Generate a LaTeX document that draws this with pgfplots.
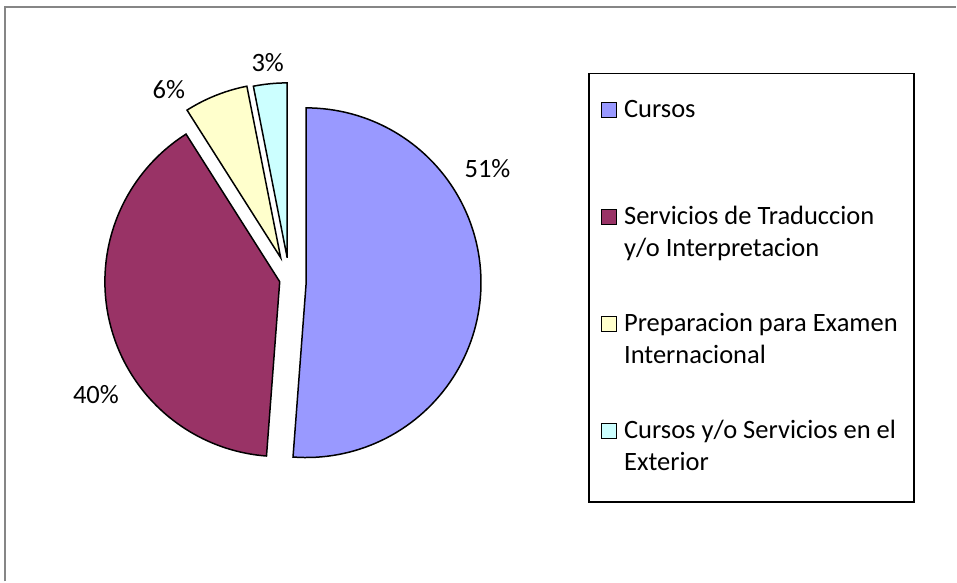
\documentclass[border=0pt]{standalone}
\usepackage{pgfplots}
\pgfplotsset{compat=1.18}
\usepackage{fontspec}
\setmainfont{Carlito}
\definecolor{cCursos}{RGB}{153,153,255}
\definecolor{cServ}{RGB}{153,51,102}
\definecolor{cPrep}{RGB}{255,255,204}
\definecolor{cExt}{RGB}{204,255,255}
\definecolor{frameg}{RGB}{134,134,134}
% shares in percent (labels: 51%, 40%, 6%, 3%)
\def\sCursos{51.2}
\def\sServ{39.8}
\def\sPrep{5.9}
\def\sExt{3.1}
\pgfmathsetmacro\aA{90}
\pgfmathsetmacro\aB{\aA-3.6*\sCursos}
\pgfmathsetmacro\aC{\aB-3.6*\sServ}
\pgfmathsetmacro\aD{\aC-3.6*\sPrep}
\pgfmathsetmacro\aE{\aD-3.6*\sExt}
\newcommand\lf{\fontsize{26.5}{32}\selectfont}
\begin{document}
\begin{tikzpicture}
\begin{axis}[
  scale only axis, width=957pt, height=582pt,
  xmin=0, xmax=957, ymin=0, ymax=582, y dir=reverse,
  hide axis, clip=false,
  legend image code/.code={\draw[#1, line width=1pt] (0pt,0pt) rectangle (15pt,15pt);},
  legend style={at={(axis cs:589,73)}, anchor=north west, draw=black, line width=1.5pt,
    inner xsep=12pt, inner ysep=19pt, row sep=37pt, column sep=4pt,
    font=\lf, nodes={anchor=base west, inner sep=3pt, text height=22pt, text depth=42pt}},
]
% slice: vertex (exploded position) and radius 175
\addplot[fill=cCursos, draw=black, line width=1.5pt, domain=\aB:\aA, samples=100, variable=\t]
  ({306.5+175*cos(\t)}, {283-175*sin(\t)}) -- (axis cs:306.5,283) -- cycle;
\addlegendentry{\parbox[t]{275pt}{Cursos}}
\addplot[fill=cServ, draw=black, line width=1.5pt, domain=\aC:\aB, samples=100, variable=\t]
  ({280+175*cos(\t)}, {282-175*sin(\t)}) -- (axis cs:280,282) -- cycle;
\addlegendentry{\parbox[t]{275pt}{Servicios de Traduccion\\y/o Interpretacion}}
\addplot[fill=cPrep, draw=black, line width=1.5pt, domain=\aD:\aC, samples=30, variable=\t]
  ({281+175*cos(\t)}, {258-175*sin(\t)}) -- (axis cs:281,258) -- cycle;
\addlegendentry{\parbox[t]{275pt}{Preparacion para Examen\\Internacional}}
\addplot[fill=cExt, draw=black, line width=1.5pt, domain=\aE:\aD, samples=20, variable=\t]
  ({287.5+175*cos(\t)}, {258-175*sin(\t)}) -- (axis cs:287.5,258) -- cycle;
\addlegendentry{\parbox[t]{275pt}{Cursos y/o Servicios en el\\Exterior}}
\node[font=\lf] at (axis cs:488,169) {51\%};
\node[font=\lf] at (axis cs:96,395) {40\%};
\node[font=\lf] at (axis cs:169,90) {6\%};
\node[font=\lf] at (axis cs:268,63) {3\%};
\draw[frameg, line width=2pt] (axis cs:5,582) -- (axis cs:5,7) -- (axis cs:957,7);
\path (axis cs:0,0) rectangle (axis cs:957,582);
\end{axis}
\end{tikzpicture}
\end{document}
